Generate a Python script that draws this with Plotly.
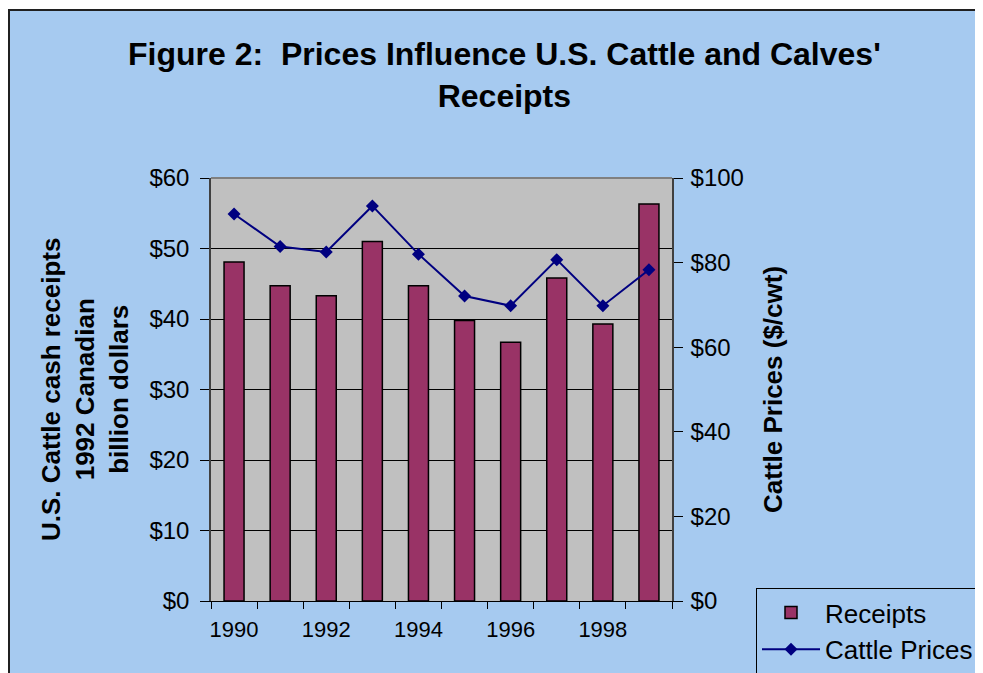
import plotly.graph_objects as go

years = ["1990", "1991", "1992", "1993", "1994", "1995", "1996", "1997", "1998", "1999"]
receipts = [48.1, 44.7, 43.3, 51.0, 44.7, 39.8, 36.7, 45.8, 39.3, 56.3]
cattle_prices = [91.5, 83.8, 82.5, 93.4, 82.0, 72.1, 69.8, 80.7, 69.8, 78.3]
x_tick_text = ["1990", "", "1992", "", "1994", "", "1996", "", "1998", ""]

W, H = 983, 673
OFF = 8  # page body margin: figure starts at screen (8, 8)
# plot area in screen pixels: x 211..672, y 178..601
ML = 211 - OFF
MT = 178 - OFF
PW = 672 - 211
PH = 601 - 178
MR = W - ML - PW
MB = H - MT - PH


def px(x):
    """screen x -> paper x"""
    return (x - OFF - ML) / PW


def py(y):
    """screen y -> paper y"""
    return (MT + PH - (y - OFF)) / PH


BG = "#A6CAF0"
FONT = "Liberation Sans, Arial, sans-serif"

fig = go.Figure()
fig.add_trace(go.Bar(
    x=years, y=receipts, name="Receipts",
    marker=dict(color="#993366", line=dict(color="black", width=1.5)),
    yaxis="y",
))
fig.add_trace(go.Scatter(
    x=years, y=cattle_prices, name="Cattle Prices", mode="lines+markers",
    line=dict(color="#000080", width=2),
    marker=dict(symbol="diamond", size=10, color="#000080"),
    yaxis="y2",
))

fig.update_layout(
    width=W, height=H,
    margin=dict(l=ML, r=MR, t=MT, b=MB, autoexpand=False),
    paper_bgcolor=BG, plot_bgcolor="#C0C0C0",
    bargap=0.566,
    showlegend=True,
    font=dict(family=FONT, color="black"),
    xaxis=dict(
        type="category", tickmode="array", tickvals=years, ticktext=x_tick_text,
        range=[-0.5, len(years) - 0.5],
        tickson="boundaries", ticks="outside", ticklen=7, tickcolor="black",
        tickangle=0, ticklabelstandoff=9,
        showline=True, linecolor="black", linewidth=1,
        tickfont=dict(size=22, family=FONT), showgrid=False,
    ),
    yaxis=dict(
        range=[0, 60], dtick=10, tickprefix="$", ticks="outside", ticklen=9,
        ticklabelstandoff=6,
        tickcolor="black", showline=True, linecolor="#404040", linewidth=1.5,
        showgrid=True, gridcolor="black", gridwidth=1, zeroline=False,
        tickfont=dict(size=24, family=FONT),
    ),
    yaxis2=dict(
        range=[0, 100], dtick=20, tickprefix="$", ticks="outside", ticklen=9,
        ticklabelstandoff=3,
        tickcolor="black", overlaying="y", side="right",
        showline=True, linecolor="#404040", linewidth=1.5, showgrid=False,
        zeroline=False, tickfont=dict(size=24, family=FONT),
    ),
    legend=dict(
        x=px(756), y=py(588), xanchor="left", yanchor="top",
        bgcolor=BG, bordercolor="black", borderwidth=1,
        font=dict(size=26, family=FONT), itemwidth=58, tracegroupgap=0,
    ),
)

annotations = [
    dict(text="<b>Figure 2:  Prices Influence U.S. Cattle and Calves'<br>Receipts</b>",
         x=px(504), y=py(75), xref="paper", yref="paper", xanchor="center",
         yanchor="middle", showarrow=False, font=dict(size=32, family=FONT)),
    dict(text="<b>U.S. Cattle cash receipts<br>1992 Canadian<br>billion dollars</b>",
         x=px(85), y=py(390), xref="paper", yref="paper", xanchor="center",
         yanchor="middle", textangle=-90, showarrow=False, font=dict(size=26, family=FONT)),
    dict(text="<b>Cattle Prices ($/cwt)</b>",
         x=px(773), y=py(390), xref="paper", yref="paper", xanchor="center",
         yanchor="middle", textangle=-90, showarrow=False, font=dict(size=26, family=FONT)),
]
fig.update_layout(annotations=annotations)

shapes = [
    # top border of plot area (gray)
    dict(type="line", xref="paper", yref="paper", x0=0, x1=1, y0=1, y1=1,
         line=dict(color="#808080", width=2), layer="above"),
    # thin white strip above the chart border
    dict(type="rect", xref="paper", yref="paper", x0=px(0), x1=px(W + 20), y0=py(0), y1=py(9),
         fillcolor="white", line=dict(width=0), layer="above"),
    # chart area border (top and left)
    dict(type="line", xref="paper", yref="paper", x0=px(8), x1=px(W + 20), y0=py(10), y1=py(10),
         line=dict(color="#202020", width=2), layer="above"),
    dict(type="line", xref="paper", yref="paper", x0=px(9), x1=px(9), y0=py(9), y1=py(H + 20),
         line=dict(color="#202020", width=2), layer="above"),
]
fig.update_layout(shapes=shapes)

fig.write_html("out.html")
